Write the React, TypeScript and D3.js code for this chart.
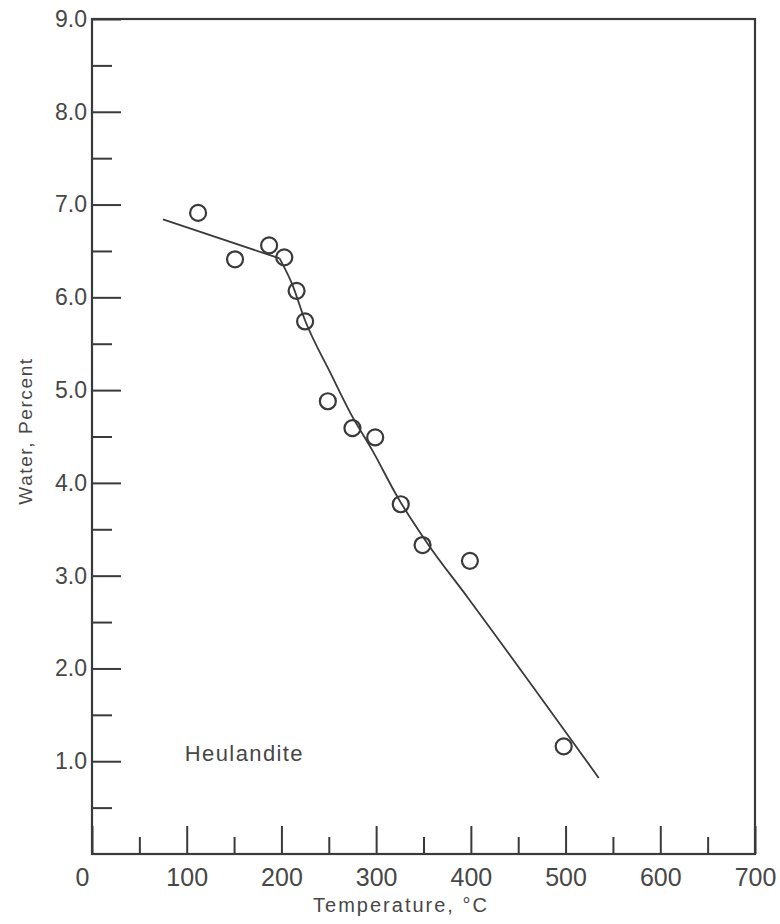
import React, { useEffect, useRef } from 'react';
import * as d3 from 'd3';

// measured points
const tempC = [112, 151, 187, 203, 216, 225, 249, 275, 299, 326, 349, 399, 498];
const waterPct = [6.91, 6.41, 6.56, 6.43, 6.07, 5.74, 4.88, 4.59, 4.49, 3.77, 3.33, 3.16, 1.16];

// fitted curve: a straight low-temperature branch, then the steep branch
const flatT = [75, 198];
const flatW = [6.84, 6.42];
const steepT = [198, 211, 225, 252, 273, 296, 323, 354, 397, 535];
const steepW = [6.42, 6.15, 5.75, 5.18, 4.75, 4.35, 3.84, 3.35, 2.76, 0.82];

const xMajor = [0, 100, 200, 300, 400, 500, 600, 700];
const xMinor = [50, 150, 250, 350, 450, 550, 650];
const yMajor = [1, 2, 3, 4, 5, 6, 7, 8, 9];
const yMinor = [0.5, 1.5, 2.5, 3.5, 4.5, 5.5, 6.5, 7.5, 8.5];

const mineral = 'Heulandite';

const ink = '#3a3a3a';
const textInk = '#474747';
const font = '"Liberation Sans", Arial, sans-serif';

const App = () => {
  const ref = useRef<SVGSVGElement>(null);

  useEffect(() => {
    const svg = d3.select(ref.current);
    svg.selectAll('*').remove();

    const x = d3.scaleLinear().domain([0, 700]).range([92, 755]);
    const y = d3.scaleLinear().domain([0, 9]).range([854, 19]);

    // frame
    svg.append('rect')
      .attr('x', x(0))
      .attr('y', y(9))
      .attr('width', x(700) - x(0))
      .attr('height', y(0) - y(9))
      .attr('fill', 'none')
      .attr('stroke', ink)
      .attr('stroke-width', 2.2);

    // x axis
    const gx = svg.append('g')
      .attr('transform', `translate(0,${y(0)})`)
      .call(d3.axisBottom(x).tickValues(xMajor).tickSize(-28).tickPadding(14).tickFormat(d3.format('d')));
    svg.append('g')
      .attr('transform', `translate(0,${y(0)})`)
      .call(d3.axisBottom(x).tickValues(xMinor).tickSize(-17).tickFormat(() => ''));

    // y axis
    const gy = svg.append('g')
      .attr('transform', `translate(${x(0)},0)`)
      .call(d3.axisLeft(y).tickValues(yMajor).tickSize(-29).tickPadding(5).tickFormat(d3.format('.1f')));
    svg.append('g')
      .attr('transform', `translate(${x(0)},0)`)
      .call(d3.axisLeft(y).tickValues(yMinor).tickSize(-20).tickFormat(() => ''));

    svg.selectAll('.domain').remove();
    svg.selectAll('.tick line').attr('stroke', ink).attr('stroke-width', 2);

    gx.selectAll('text')
      .attr('font-family', font)
      .attr('font-size', 25)
      .attr('fill', textInk)
      .attr('dx', (d: any) => (d === 0 ? -10 : 0));
    gy.selectAll('text')
      .attr('font-family', font)
      .attr('font-size', 23)
      .attr('fill', textInk);

    // curve
    const flatLine = d3.line<number>()
      .x((d, i) => x(flatT[i]))
      .y(d => y(d));
    const steepLine = d3.line<number>()
      .x((d, i) => x(steepT[i]))
      .y(d => y(d))
      .curve(d3.curveMonotoneX);

    svg.append('path')
      .datum(flatW)
      .attr('d', flatLine)
      .attr('fill', 'none')
      .attr('stroke', ink)
      .attr('stroke-width', 1.8);
    svg.append('path')
      .datum(steepW)
      .attr('d', steepLine)
      .attr('fill', 'none')
      .attr('stroke', ink)
      .attr('stroke-width', 1.8);

    // points
    svg.selectAll('circle.pt')
      .data(tempC)
      .enter()
      .append('circle')
      .attr('class', 'pt')
      .attr('cx', d => x(d))
      .attr('cy', (d, i) => y(waterPct[i]))
      .attr('r', 8)
      .attr('fill', 'none')
      .attr('stroke', ink)
      .attr('stroke-width', 2.2);

    // labels
    svg.append('text')
      .attr('x', x(98))
      .attr('y', y(1.0))
      .attr('font-family', font)
      .attr('font-size', 22)
      .attr('letter-spacing', 1.4)
      .attr('fill', textInk)
      .text(mineral);

    svg.append('text')
      .attr('x', 401)
      .attr('y', 912)
      .attr('text-anchor', 'middle')
      .attr('font-family', font)
      .attr('font-size', 20)
      .attr('letter-spacing', 2)
      .attr('fill', textInk)
      .text('Temperature, °C');

    svg.append('text')
      .attr('transform', 'translate(32,431) rotate(-90)')
      .attr('text-anchor', 'middle')
      .attr('font-family', font)
      .attr('font-size', 19)
      .attr('letter-spacing', 1.6)
      .attr('fill', textInk)
      .text('Water, Percent');
  }, []);

  return (
    <svg
      ref={ref}
      width={780}
      height={924}
      style={{ position: 'absolute', left: 0, top: 0, background: '#fff' }}
    />
  );
};

export default App;
